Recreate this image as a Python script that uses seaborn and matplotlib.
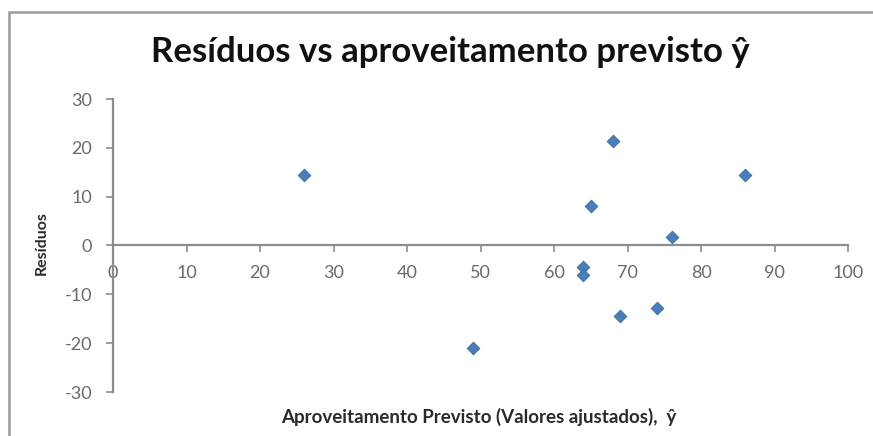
import matplotlib
matplotlib.use("Agg")
import matplotlib.pyplot as plt
from matplotlib.patches import Rectangle
import seaborn as sns
import pandas as pd

# Fitted values (ŷ) and their residuals
fitted = [26, 49, 68, 86, 65, 76, 64, 64, 69, 74]
residuals = [14.4, -20.9, 21.5, 14.4, 8.0, 1.7, -4.4, -6.0, -14.5, -12.8]

x_ticks = [0, 10, 20, 30, 40, 50, 60, 70, 80, 90, 100]
y_ticks = [-30, -20, -10, 0, 10, 20, 30]

title = "Resíduos vs aproveitamento previsto ŷ"
x_label = "Aproveitamento Previsto (Valores ajustados),  ŷ"
y_label = "Resíduos"

df = pd.DataFrame({"ajustado": fitted, "residuo": residuals})

sns.set_theme(style="white")
plt.rcParams["font.family"] = ["Lato", "DejaVu Sans"]
plt.rcParams["axes.unicode_minus"] = False

W, H = 873, 436
fig = plt.figure(figsize=(W / 100, H / 100), dpi=100)
fig.patch.set_facecolor("white")

# Chart-area border (top and left edges visible)
fig.patches.append(Rectangle((9 / W, -0.5), 2.0, 1 - 12 / H + 0.5,
                             transform=fig.transFigure, fill=False,
                             edgecolor="#9a9a9a", linewidth=1.8, clip_on=False))

ax = fig.add_axes([113 / W, (H - 392) / H, (848 - 113) / W, (392 - 99) / H])

sns.scatterplot(data=df, x="ajustado", y="residuo", ax=ax, marker="D", s=42,
                color="#4A7EBB", edgecolor="#3E6AA0", linewidth=0.6, zorder=3)

axis_gray = "#8c8c8c"
ax.set_xlim(0, 100)
ax.set_ylim(-30, 30)
ax.set_xticks(x_ticks)
ax.set_yticks(y_ticks)
ax.spines["left"].set_position(("data", 0))
ax.spines["bottom"].set_position(("data", 0))
for side in ("top", "right"):
    ax.spines[side].set_visible(False)
for side in ("left", "bottom"):
    ax.spines[side].set_color(axis_gray)
    ax.spines[side].set_linewidth(1.6)

ax.tick_params(axis="both", direction="out", length=5, width=1.2, color=axis_gray,
               labelsize=13, labelcolor="#6a6a6a", bottom=True, left=True)
ax.tick_params(axis="x", pad=9)
ax.tick_params(axis="y", pad=10)
ax.grid(False)

ax.set_xlabel(x_label, fontsize=13.5, fontweight="bold", color="#2a2a2a")
ax.xaxis.set_label_coords(0.498, -0.055)
ax.set_ylabel(y_label, fontsize=11.5, fontweight="bold", color="#2a2a2a")
ax.yaxis.set_label_coords(-0.088, 0.51)

fig.text(450 / W, 1 - 52 / H, title, ha="center", va="center",
         fontsize=25, fontweight="bold", color="#111111")

fig.savefig("out.png", dpi=100, facecolor="white")
